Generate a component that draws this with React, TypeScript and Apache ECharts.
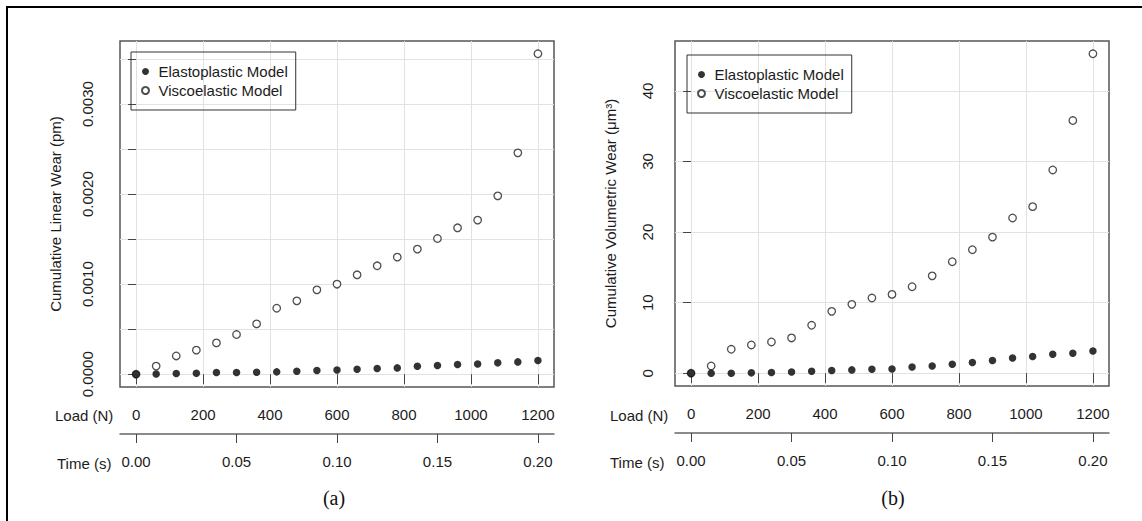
import React, { useEffect, useRef } from "react";
import * as echarts from "echarts";

// ---- data ----
const loadN = [0, 60, 120, 180, 240, 300, 360, 420, 480, 540, 600, 660, 720, 780, 840, 900, 960, 1020, 1080, 1140, 1200];

const linearElasto = [0, 0.000003, 0.000008, 0.000011, 0.000019, 0.00002, 0.000022, 0.000026, 0.000033, 0.000041, 0.000046, 0.000056, 0.000063, 0.00007, 0.000089, 0.000097, 0.000108, 0.000114, 0.000126, 0.000137, 0.000152];
const linearVisco = [0, 0.00009, 0.000203, 0.000267, 0.000348, 0.000441, 0.000559, 0.000733, 0.000815, 0.000937, 0.001, 0.001104, 0.001204, 0.0013, 0.001389, 0.001507, 0.001626, 0.001711, 0.001981, 0.002459, 0.003559];

const volElasto = [0, 0, 0, 0.05, 0.1, 0.18, 0.28, 0.38, 0.47, 0.57, 0.61, 0.89, 1.03, 1.27, 1.51, 1.8, 2.16, 2.36, 2.69, 2.83, 3.15];
const volVisco = [0, 1.03, 3.39, 4.0, 4.43, 5.0, 6.79, 8.77, 9.76, 10.65, 11.17, 12.26, 13.8, 15.8, 17.5, 19.28, 22.0, 23.6, 28.8, 35.8, 45.26];

const loadTicks = [0, 200, 400, 600, 800, 1000, 1200];
const timeTicks = [0, 0.05, 0.1, 0.15, 0.2];
const linearTicks = [0, 0.0005, 0.001, 0.0015, 0.002, 0.0025, 0.003, 0.0035];
const linearLabels = [0, 0.001, 0.002, 0.003];
const volTicks = [0, 10, 20, 30, 40];

const seriesNames = ["Elastoplastic Model", "Viscoelastic Model"];

const FONT = "Liberation Sans, Arial, Helvetica, sans-serif";
const TXT = "#1c1c1c";

function pairs(ys: number[]) {
  return loadN.map((x, i) => [x, ys[i]]);
}

export default function App() {
  const ref = useRef<HTMLDivElement>(null);
  useEffect(() => {
    const chart = echarts.init(ref.current!, null, { renderer: "svg" });

    const loadAxis = (gridIndex: number) => ({
      type: "value",
      gridIndex,
      min: -48,
      max: 1248,
      position: "bottom",
      axisLine: { show: false },
      axisTick: { show: true, length: 10, customValues: loadTicks, lineStyle: { color: "#444", width: 1 } },
      axisLabel: {
        customValues: loadTicks,
        margin: 20,
        fontSize: 15,
        color: TXT,
        fontFamily: FONT,
        formatter: (v: number) => String(v),
      },
      splitLine: { show: true, lineStyle: { color: "#e2e2e2", width: 1 } },
    });
    const timeAxis = (gridIndex: number) => ({
      type: "value",
      gridIndex,
      min: -0.008,
      max: 0.208,
      position: "bottom",
      offset: 47,
      axisLine: { show: true, lineStyle: { color: "#666", width: 1.5 } },
      axisTick: { show: true, length: 9, customValues: timeTicks, lineStyle: { color: "#444", width: 1 } },
      axisLabel: {
        customValues: timeTicks,
        margin: 20,
        fontSize: 15,
        color: TXT,
        fontFamily: FONT,
        formatter: (v: number) => v.toFixed(2),
      },
      splitLine: { show: false },
    });

    const seriesFor = (xi: number, yi: number, elasto: number[], visco: number[]) => [
      {
        name: seriesNames[1],
        type: "scatter",
        xAxisIndex: xi,
        yAxisIndex: yi,
        data: pairs(visco),
        symbol: "circle",
        symbolSize: 7.5,
        itemStyle: { color: "#fff", borderColor: "#222", borderWidth: 1.3 },
        z: 2,
      },
      {
        name: seriesNames[0],
        type: "scatter",
        xAxisIndex: xi,
        yAxisIndex: yi,
        data: pairs(elasto),
        symbol: "circle",
        symbolSize: 7.5,
        itemStyle: { color: "#000" },
        z: 3,
      },
    ];

    const legendFor = (left: number, top: number) => ({
      orient: "vertical",
      left,
      top,
      data: seriesNames,
      itemWidth: 16,
      itemHeight: 7,
      itemGap: 4,
      padding: [12, 8, 12, 10],
      borderColor: "#333",
      borderWidth: 1,
      borderRadius: 0,
      selectedMode: false,
      textStyle: { fontSize: 15, color: TXT, fontFamily: FONT, lineHeight: 14 },
    });

    const option = {
      animation: false,
      backgroundColor: "#fff",
      textStyle: { fontFamily: FONT },
      grid: [
        { left: 120, top: 41, width: 434, height: 346, show: true, borderColor: "#555", borderWidth: 1.5, backgroundColor: "transparent", containLabel: false },
        { left: 675, top: 41, width: 434, height: 345, show: true, borderColor: "#555", borderWidth: 1.5, backgroundColor: "transparent", containLabel: false },
      ],
      xAxis: [loadAxis(0), timeAxis(0), loadAxis(1), timeAxis(1)],
      yAxis: [
        {
          type: "value",
          gridIndex: 0,
          min: -0.000142,
          max: 0.003701,
          axisLine: { show: false },
          axisTick: { show: true, length: 8, customValues: linearTicks, lineStyle: { color: "#444", width: 1 } },
          axisLabel: {
            customValues: linearLabels,
            rotate: 90,
            margin: 25,
            fontSize: 15,
            color: TXT,
            fontFamily: FONT,
            formatter: (v: number) => v.toFixed(4),
          },
          splitLine: { show: true, lineStyle: { color: "#e2e2e2", width: 1 } },
          name: "Cumulative Linear Wear (pm)",
          nameLocation: "middle",
          nameRotate: 90,
          nameGap: 57,
          nameTextStyle: { fontSize: 15, color: TXT, fontFamily: FONT },
        },
        {
          type: "value",
          gridIndex: 1,
          min: -1.81,
          max: 47.07,
          axisLine: { show: false },
          axisTick: { show: true, length: 8, customValues: volTicks, lineStyle: { color: "#444", width: 1 } },
          axisLabel: {
            customValues: volTicks,
            rotate: 90,
            margin: 20,
            fontSize: 15,
            color: TXT,
            fontFamily: FONT,
          },
          splitLine: { show: true, lineStyle: { color: "#e2e2e2", width: 1 } },
          name: "Cumulative Volumetric Wear (μm³)",
          nameLocation: "middle",
          nameRotate: 90,
          nameGap: 57,
          nameTextStyle: { fontSize: 15, color: TXT, fontFamily: FONT },
        },
      ],
      legend: [legendFor(131, 52), legendFor(687, 55)],
      series: [...seriesFor(0, 0, linearElasto, linearVisco), ...seriesFor(2, 1, volElasto, volVisco)],
      graphic: [
        { type: "line", shape: { x1: 6, y1: 7, x2: 1142, y2: 7 }, style: { stroke: "#000", lineWidth: 2 } },
        { type: "line", shape: { x1: 7, y1: 6, x2: 7, y2: 521 }, style: { stroke: "#000", lineWidth: 2 } },
        { type: "text", x: 55, y: 415, style: { text: "Load (N)", font: `15px ${FONT}`, fill: TXT, textVerticalAlign: "middle" } },
        { type: "text", x: 57, y: 463, style: { text: "Time (s)", font: `15px ${FONT}`, fill: TXT, textVerticalAlign: "middle" } },
        { type: "text", x: 610, y: 415, style: { text: "Load (N)", font: `15px ${FONT}`, fill: TXT, textVerticalAlign: "middle" } },
        { type: "text", x: 610, y: 462, style: { text: "Time (s)", font: `15px ${FONT}`, fill: TXT, textVerticalAlign: "middle" } },
        { type: "text", x: 334, y: 498, style: { text: "(a)", font: `20px "Liberation Serif", "Times New Roman", serif`, fill: "#111", textAlign: "center", textVerticalAlign: "middle" } },
        { type: "text", x: 893, y: 498, style: { text: "(b)", font: `20px "Liberation Serif", "Times New Roman", serif`, fill: "#111", textAlign: "center", textVerticalAlign: "middle" } },
      ],
    };

    chart.setOption(option as any);
    return () => chart.dispose();
  }, []);
  return <div ref={ref} style={{ position: "absolute", left: 0, top: 0, width: 1142, height: 521 }} />;
}
